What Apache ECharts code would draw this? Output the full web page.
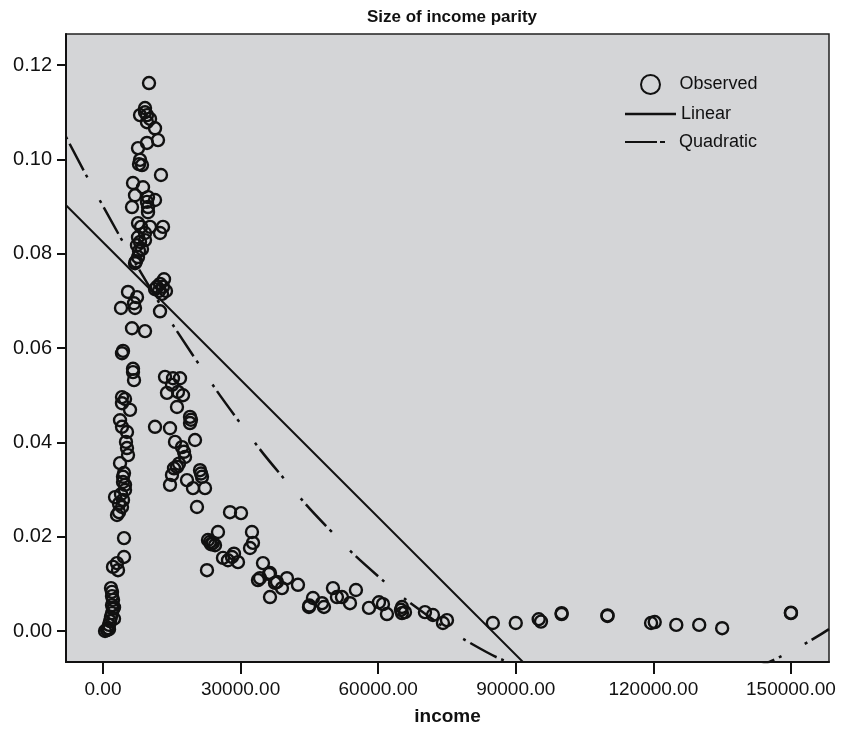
<!DOCTYPE html>
<html><head><meta charset="utf-8">
<script src="https://cdn.jsdelivr.net/npm/echarts@6/dist/echarts.min.js"></script>
<style>html,body{margin:0;padding:0;background:#fff}#c{width:841px;height:732px}</style>
</head><body><div id="c"></div>
<script>
// Observed points (income, parity)
const incomes = [
  440, 870, 1090, 1310, 1530, 1740, 1960, 2180, 1960, 2180, 1960, 1960, 1740, 1310, 2400, 2400,
  4580, 4580, 3050, 3270, 2180,
  3050, 3490, 4140, 2620, 4360, 4800, 4360, 4360, 4580, 3710, 5450, 5230, 5010, 5230, 4140, 3710, 5890, 4140, 4140, 4800, 3920, 4800, 3490,
  6760, 6540, 4140, 6320, 9160, 3920, 6980, 7410, 5450, 6760, 6540, 4360,
  10030, 9160, 8070, 9590, 9590, 11340, 11990, 9590, 7630, 8070, 8500, 12640, 6540, 8720, 6980, 9810, 11340, 6320, 9810, 9810, 7630, 10250, 13080, 12430, 7630, 9160, 7410, 7630, 6980, 8290, 9160, 8070, 8500, 7850, 7190, 9160, 10250, 7850, 9590,
  11340, 12430, 13300, 13730, 12860, 12430, 11770, 13080, 12210,
  13520, 15260, 16790, 15040, 13950, 16350, 17440, 16130, 18970, 18970, 20060, 14610, 11340, 15700, 17220, 17880, 16130, 15040, 18310, 19620, 21150, 21580, 22240, 20490, 14610, 17660, 16570, 19180, 21370, 15480,
  27690, 30090, 25070, 23330, 23980, 22890, 24420, 26160, 28120, 29430, 22670, 32480, 32700, 32050, 34880, 34230, 36410, 37930, 40110, 42510, 33790, 36190, 37500, 36410, 39020, 23550, 27250, 28560,
  45780, 44910, 47750, 48180, 50140, 51010, 52100, 53850, 55150, 57990, 60170, 61040, 61910, 65190, 65840, 65190, 70200, 71940, 74120, 75000, 45000, 64970,
  85000, 90000, 95000, 95500, 100000, 110000, 119500, 120300, 125000, 130000, 135000, 150000, 100000, 110000, 150000
];
const parities = [
  0.0000, 0.0002, 0.0006, 0.0013, 0.0021, 0.0030, 0.0038, 0.0047, 0.0055, 0.0066, 0.0074, 0.0083, 0.0091, 0.0004, 0.0050, 0.0026,
  0.0197, 0.0157, 0.0144, 0.0129, 0.0136,
  0.0246, 0.0252, 0.0263, 0.0284, 0.0278, 0.0299, 0.0316, 0.0327, 0.0335, 0.0356, 0.0373, 0.0388, 0.0401, 0.0422, 0.0433, 0.0447, 0.0469, 0.0483, 0.0496, 0.0492, 0.0290, 0.0310, 0.0270,
  0.0532, 0.0549, 0.0589, 0.0642, 0.0636, 0.0685, 0.0685, 0.0708, 0.0719, 0.0695, 0.0556, 0.0594,
  0.1162, 0.1109, 0.1094, 0.1094, 0.1079, 0.1066, 0.1041, 0.1035, 0.1024, 0.0999, 0.0988, 0.0967, 0.0950, 0.0941, 0.0924, 0.0920, 0.0914, 0.0899, 0.0899, 0.0888, 0.0865, 0.0857, 0.0857, 0.0844, 0.0835, 0.0829, 0.0818, 0.0793, 0.0780, 0.0857, 0.0844, 0.0825, 0.0810, 0.0806, 0.0784, 0.1100, 0.1086, 0.0990, 0.0910,
  0.0725, 0.0736, 0.0746, 0.0721, 0.0715, 0.0678, 0.0730, 0.0730, 0.0721,
  0.0539, 0.0536, 0.0536, 0.0522, 0.0505, 0.0507, 0.0500, 0.0475, 0.0454, 0.0441, 0.0405, 0.0430, 0.0433, 0.0401, 0.0390, 0.0369, 0.0348, 0.0331, 0.0320, 0.0303, 0.0341, 0.0327, 0.0303, 0.0263, 0.0310, 0.0380, 0.0355, 0.0448, 0.0334, 0.0345,
  0.0252, 0.0250, 0.0210, 0.0189, 0.0187, 0.0193, 0.0182, 0.0155, 0.0157, 0.0146, 0.0129, 0.0210, 0.0187, 0.0176, 0.0144, 0.0112, 0.0123, 0.0104, 0.0112, 0.0098, 0.0108, 0.0121, 0.0102, 0.0072, 0.0091, 0.0184, 0.0150, 0.0164,
  0.0070, 0.0051, 0.0059, 0.0051, 0.0091, 0.0072, 0.0072, 0.0059, 0.0087, 0.0049, 0.0061, 0.0057, 0.0036, 0.0051, 0.0040, 0.0038, 0.0040, 0.0034, 0.0017, 0.0023, 0.0054, 0.0045,
  0.0017, 0.0017, 0.0025, 0.0020, 0.0038, 0.0032, 0.0017, 0.0019, 0.0013, 0.0013, 0.0006, 0.0038, 0.0036, 0.0033, 0.0039
];
// Fitted lines
const linearX = [-8070, 95000];
const linearY = [0.0903, -0.0099];
const quadX = [-8070, 0, 10000, 20000, 30000, 40000, 50000, 60000, 70000, 80000, 90000, 100000, 110000, 120000, 130000, 140000, 150000, 158300];
const quadY = [0.1048, 0.0901, 0.0732, 0.0579, 0.0440, 0.0317, 0.0209, 0.0116, 0.0038, -0.0025, -0.0073, -0.0106, -0.0124, -0.0126, -0.0114, -0.0086, -0.0043, 0.0004];
// Axis ticks
const xTicks = [0, 30000, 60000, 90000, 120000, 150000];
const yTicks = [0, 0.02, 0.04, 0.06, 0.08, 0.10, 0.12];

const FONT = '"Liberation Sans", Arial, Helvetica, sans-serif';
const INK = '#111';

const chart = echarts.init(document.getElementById('c'), null, {renderer: 'canvas'});
const zip = (a, b) => a.map((v, i) => [v, b[i]]);

chart.setOption({
  animation: false,
  backgroundColor: '#fff',
  title: {
    text: 'Size of income parity', left: 447, top: 4, textAlign: 'center',
    textStyle: {fontFamily: FONT, fontSize: 17, fontWeight: 'bold', color: INK}
  },
  grid: {
    left: 66, right: 12, top: 34, bottom: 70, show: true,
    backgroundColor: '#d4d5d7', borderColor: '#222', borderWidth: 1.5
  },
  legend: [
    {data: [{name: 'Observed', icon: 'circle', itemStyle: {color: 'transparent', borderColor: INK, borderWidth: 2}}],
     left: 635, top: 69, itemWidth: 48, itemHeight: 19, selectedMode: false,
     textStyle: {fontFamily: FONT, fontSize: 18, color: INK}},
    {data: [{name: 'Linear', icon: 'rect', itemStyle: {color: INK, borderWidth: 0}}],
     left: 620, top: 100, itemWidth: 51, itemHeight: 2.5, selectedMode: false,
     textStyle: {fontFamily: FONT, fontSize: 18, color: INK}},
    {data: [{name: 'Quadratic', icon: 'path://M0,0H32V2H0Z M35,0H40V2H35Z', itemStyle: {color: INK, borderWidth: 0}}],
     left: 620, top: 128, itemWidth: 40, itemHeight: 2.5, selectedMode: false,
     textStyle: {fontFamily: FONT, fontSize: 18, color: INK, padding: [0, 0, 0, 9]}}
  ],
  xAxis: {
    type: 'value', min: -8070, max: 158300,
    name: 'income', nameLocation: 'middle', nameGap: 45,
    nameTextStyle: {fontFamily: FONT, fontSize: 19, fontWeight: 'bold', color: INK},
    axisLine: {show: true, onZero: false, lineStyle: {color: INK, width: 2}},
    axisTick: {show: true, customValues: xTicks, length: 12, lineStyle: {color: INK, width: 2}},
    axisLabel: {customValues: xTicks, formatter: v => v.toFixed(2), fontFamily: FONT, fontSize: 19, color: INK, margin: 18},
    splitLine: {show: false}
  },
  yAxis: {
    type: 'value', min: -0.00657, max: 0.1266,
    axisLine: {show: true, onZero: false, lineStyle: {color: INK, width: 2}},
    axisTick: {show: true, customValues: yTicks, length: 9, lineStyle: {color: INK, width: 2}},
    axisLabel: {customValues: yTicks, formatter: v => v.toFixed(2), fontFamily: FONT, fontSize: 20, color: INK, margin: 14},
    splitLine: {show: false}
  },
  series: [
    {
      name: 'Observed', type: 'scatter', data: zip(incomes, parities),
      symbol: 'circle', symbolSize: 12,
      itemStyle: {color: 'transparent', borderColor: INK, borderWidth: 2.4, opacity: 1},
      emphasis: {disabled: true}
    },
    {
      name: 'Linear', type: 'line', data: zip(linearX, linearY),
      showSymbol: false, clip: true, color: INK,
      lineStyle: {color: INK, width: 2}, emphasis: {disabled: true}
    },
    {
      name: 'Quadratic', type: 'line', data: zip(quadX, quadY),
      showSymbol: false, smooth: true, clip: true, color: INK,
      lineStyle: {color: INK, width: 2.5, type: [3, 5, 30, 5, 3, 26]}, emphasis: {disabled: true}
    }
  ]
});
</script>
</body></html>
